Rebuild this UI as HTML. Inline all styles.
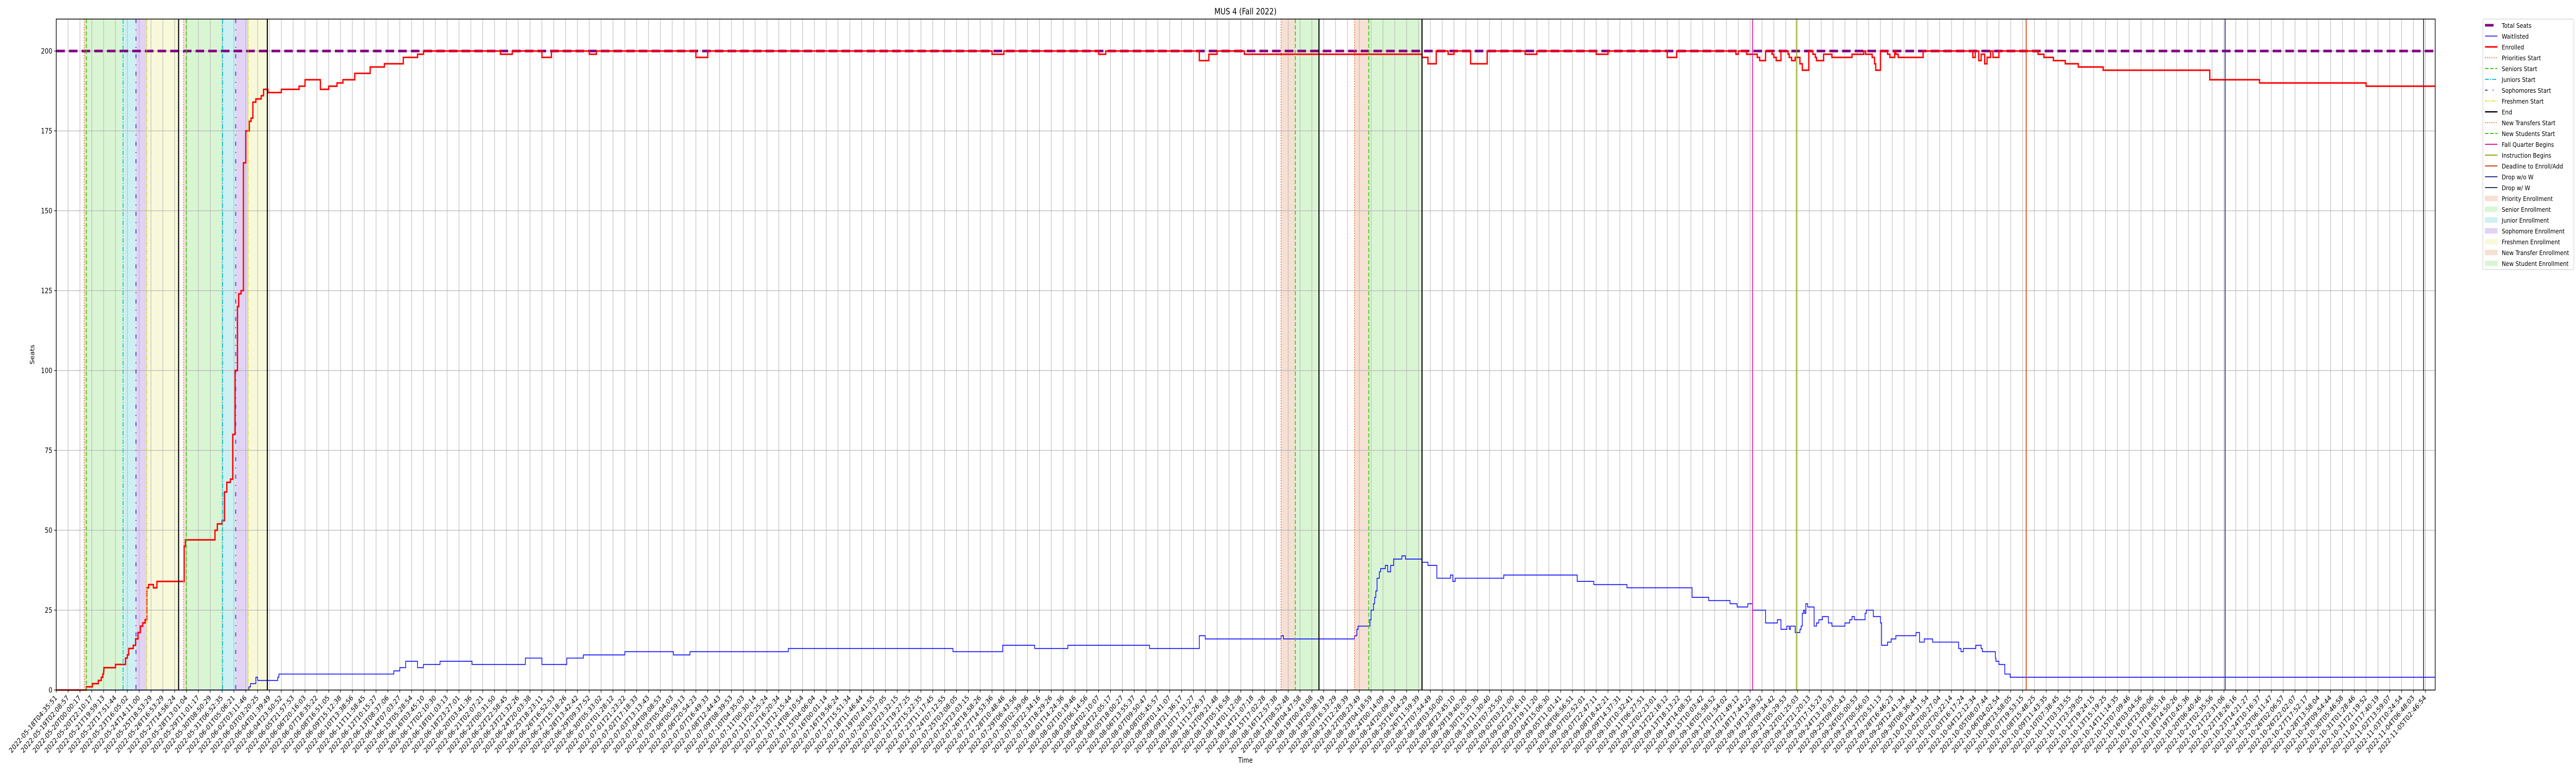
<!DOCTYPE html>
<html><head><meta charset="utf-8"><title>MUS 4 (Fall 2022)</title>
<meta name="viewport" content="width=6000, initial-scale=1">
<style>html,body{margin:0;padding:0;background:#fff;overflow:hidden}svg{display:block;overflow:hidden;width:100vw;height:100vh}text{font-family:"DejaVu Sans","Liberation Sans",sans-serif;fill:#000}</style>
</head><body>
<svg id="chart" viewBox="0 0 6000 1500" preserveAspectRatio="none" xmlns="http://www.w3.org/2000/svg">
<rect x="0" y="0" width="6000" height="1500" fill="#fff"/>
<g id="shades"></g>
<g id="grid"></g>
<g id="series"></g>
<g id="vlines"></g>
<rect x="131" y="37" width="5541" height="1302" fill="none" stroke="#000" stroke-width="1.5"/>
<g id="xaxis"></g>
<g id="yaxis"></g>
<text x="2901" y="28" font-size="16.5" text-anchor="middle">MUS 4 (Fall 2022)</text>
<text x="2901" y="1480" font-size="13.9" text-anchor="middle">Time</text>
<text x="0" y="0" font-size="13.9" text-anchor="middle" transform="translate(80,688) rotate(-90)">Seats</text>
<g id="legend"></g>
</svg>
<script>
// ---- data (x in tick-index units, y in seats) ----
const totalSeats = 200;
const enrolledT = [0,2.54,3.05,3.55,3.8,3.93,4.0,4.02,5.0,5.85,6.0,6.12,6.5,6.7,6.9,7.1,7.3,7.5,7.65,7.8,8.2,8.5,10.8,10.9,13.4,13.6,14.0,14.2,14.4,14.7,14.9,15.1,15.3,15.4,15.6,15.8,16.0,16.3,16.45,16.6,16.85,17.3,17.5,17.87,19.0,20.5,21.0,22.3,23.0,23.7,24.2,25.2,26.5,27.7,29.3,30.5,31.0,37.5,38.5,41,41.8,45,45.6,54,55,79,80,88,88.6,96.5,97.3,98,100.3,115.3,115.8,116.5,117.5,118,119.4,120.8,124,125,130,131,136,136.8,141.8,142.0,142.7,143.6,143.8,144.3,144.85,145.0,145.2,145.6,146.2,146.3,146.5,146.8,147.2,147.4,147.95,148.3,148.5,148.6,149.2,149.9,151.6,152.6,152.75,153.3,153.5,153.6,154.0,154.6,154.8,155.2,155.3,155.5,157.6,161.8,162.0,162.3,162.5,162.8,163.0,163.3,163.5,164.0,167.3,167.8,168.6,169.6,170.7,172.8,181.8,186,195];
const enrolledV = [0,1,2,3,4,5,6,7,8,10,11,13,14,16,18,20,21,22,32,33,32,34,45,47,50,52,53,62,65,66,80,100,120,124,125,165,175,178,179,184,185,186,188,187,188,189,191,188,189,190,191,193,195,196,198,199,200,199,200,198,200,199,200,198,200,199,200,199,200,197,199,200,199,198,196,200,199,200,196,200,199,200,199,200,198,200,199,200,199,198,197,200,199,198,197,200,199,198,197,198,196,194,200,199,198,197,199,198,199,200,199,198,196,194,200,199,198,200,199,198,200,198,200,197,199,196,198,200,198,200,199,198,197,196,195,194,191,190,189];
const waitT = [0,16.27,16.4,16.85,17.0,18.7,18.8,28.5,29.0,29.5,30.5,31.0,32.4,35.1,39.6,41,43.1,44.5,48,52.1,53.5,61.8,75.7,79.9,82.6,85.4,92.3,96.5,97.0,103.4,103.6,109.6,109.8,109.9,110.9,111.0,111.2,111.3,111.4,111.5,111.7,111.8,112.2,112.4,112.65,112.9,113.6,113.9,115.3,115.8,116.55,117.7,117.9,118.1,119.4,122.2,128.4,129.8,132.6,138.1,139.5,141.3,141.9,142.8,143.2,144.3,145.3,145.6,146.1,146.3,146.4,146.8,147.2,147.3,147.4,147.5,147.6,147.7,147.85,147.9,148.4,148.6,148.8,149.0,149.1,149.6,149.9,151.0,151.4,151.6,151.8,152.4,152.7,152.8,153.4,154.0,154.1,154.6,154.8,154.9,155.3,157.0,157.3,157.7,158.4,160.6,160.8,161.0,161.98,162.05,162.5,162.6,163.7,163.75,164.0,164.5,164.95];
const waitV = [0,1,2,4,3,4,5,6,7,9,7,8,9,8,10,8,10,11,12,11,12,13,12,14,13,14,13,17,16,17,16,17,19,20,22,25,27,29,31,35,37,38,39,37,39,41,42,41,40,39,35,36,34,35,35,36,34,33,32,29,28,27,26,27,25,21,22,19,20,19,20,18,19,20,24,25,24,27,26,26,20,21,22,22,23,21,20,21,22,23,22,22,24,25,23,21,14,15,15,16,17,18,15,16,15,13,12,13,13,14,13,12,10,9,8,5,4,3,2];
const shadeType = ["priority","senior","junior","sophomore","freshmen","priority","senior","junior","sophomore","freshmen","newtransfer","newstudent","newtransfer","newstudent"];
const shadeStart = [2.36,2.54,5.64,6.73,7.64,10.75,10.98,14.05,15.15,16.2,103.4,104.6,109.6,110.8];
const shadeEnd = [2.54,5.64,6.73,7.64,10.33,10.98,14.05,15.15,16.2,17.82,104.6,106.6,110.8,115.3];
const eventType = ["priorities","seniors","juniors","sophomores","freshmen","end","priorities","seniors","juniors","sophomores","freshmen","end","transfers","students","end","transfers","students","end","fall","instruction","deadline","dropnow","dropw"];
const eventT = [2.36,2.54,5.64,6.73,7.64,10.33,10.75,10.98,14.05,15.15,16.2,17.82,103.4,104.6,106.6,109.6,110.8,115.3,143.2,146.9,166.3,183.1,199.85];
const yTicks = [0,25,50,75,100,125,150,175,200];
const knownLabelsStart = ["2022-05-18T04:35:51","2022-05-19T02:08:57","2022-05-20T00:00:17","2022-05-20T22:10:17","2022-05-21T19:59:13","2022-05-22T17:51:44","2022-05-23T16:05:02","2022-05-24T14:11:00","2022-05-25T18:53:29","2022-05-26T16:53:29","2022-05-27T14:56:24","2022-05-28T13:01:04","2022-05-29T11:01:17","2022-05-30T08:50:29","2022-05-31T06:52:35","2022-06-01T05:06:21","2022-06-02T03:11:46","2022-06-03T03:20:25","2022-06-04T01:39:49","2022-06-04T23:50:52","2022-06-05T21:57:53","2022-06-06T20:16:03","2022-06-07T18:35:22","2022-06-08T16:51:05","2022-06-09T15:12:38","2022-06-10T13:38:56","2022-06-11T11:58:45","2022-06-12T10:15:27","2022-06-13T08:37:06","2022-06-14T07:03:27","2022-06-15T05:28:54","2022-06-16T03:45:10","2022-06-17T02:10:30","2022-06-18T01:03:13","2022-06-18T23:27:01","2022-06-20T03:41:36","2022-06-21T02:07:21","2022-06-22T00:31:50","2022-06-22T22:58:45","2022-06-23T21:32:26","2022-06-24T20:03:38","2022-06-25T18:23:11","2022-06-26T16:52:53","2022-06-27T15:18:26","2022-06-28T13:42:42"];
const knownLabelsEnd = ["2022-10-26T22:02:07","2022-10-27T17:52:17","2022-10-28T13:58:04","2022-10-29T09:54:44","2022-10-30T05:46:58","2022-10-31T01:28:46","2022-10-31T21:19:52","2022-11-01T17:40:19","2022-11-02T13:59:07","2022-11-03T10:24:54","2022-11-04T06:48:03","2022-11-05T02:46:54"];
const tickCount = 201;

// ---- layout ----
const PL=131, PR=5672, PT=37, PB=1339, XMAX=200.83, YMAX=210;
const X = t => PL + t/XMAX*(PR-PL);
const Y = v => PB - v/YMAX*(PB-PT);
const NS="http://www.w3.org/2000/svg";
function mk(tag, attrs, parent){const e=document.createElementNS(NS,tag);for(const k in attrs)e.setAttribute(k,attrs[k]);parent.appendChild(e);return e;}
const shadeColor={priority:"#f6dfd3",senior:"#d9f5d3",junior:"#cdf0f2",sophomore:"#e1d3f4",freshmen:"#f8f9da",newtransfer:"#f6dfd3",newstudent:"#d9f5d3"};
const ev={priorities:{c:"#ee6a2a",d:"2,3",w:2},seniors:{c:"#33cc11",d:"8,4",w:2},juniors:{c:"#00c8d8",d:"9,3,2,3",w:2},sophomores:{c:"#6622dd",d:"8,12,2,12",w:2},freshmen:{c:"#dddd22",d:"6,2,2,2,2,2",w:2},end:{c:"#000",d:"",w:2.5},transfers:{c:"#ee6a2a",d:"2,3",w:2},students:{c:"#33cc11",d:"8,4",w:2},fall:{c:"#e0189a",d:"",w:2},instruction:{c:"#88aa11",d:"",w:2},deadline:{c:"#d04010",d:"",w:2},dropnow:{c:"#333399",d:"",w:2},dropw:{c:"#2b3a5a",d:"",w:2}};

// shades
const gS=document.getElementById('shades');
for(let i=0;i<shadeStart.length;i++){
  const r=mk('rect',{x:X(shadeStart[i]),y:PT,width:X(shadeEnd[i])-X(shadeStart[i]),height:PB-PT,fill:shadeColor[shadeType[i]]},gS);
  
  
}
// grid + ticks
const gG=document.getElementById('grid'), gX=document.getElementById('xaxis'), gY=document.getElementById('yaxis');
function labelFor(i){
  if(i<knownLabelsStart.length) return knownLabelsStart[i];
  const endIdx=tickCount-knownLabelsEnd.length;
  if(i>=endIdx) return knownLabelsEnd[i-endIdx];
  const a=Date.parse(knownLabelsStart[knownLabelsStart.length-1]+"Z"), b=Date.parse(knownLabelsEnd[0]+"Z");
  const i0=knownLabelsStart.length-1;
  const ms=a+(b-a)*(i-i0)/(endIdx-i0);
  return new Date(Math.round(ms/1000)*1000).toISOString().slice(0,19);
}
for(let i=0;i<tickCount;i++){
  const x=X(i);
  const g=mk('line',{x1:x,x2:x,y1:PT,y2:PB,stroke:"#b0b0b0","stroke-width":1.2,"stroke-opacity":0.9},gG);
  
  
  const tk=mk('line',{x1:x,x2:x,y1:PB,y2:PB+5,stroke:"#000","stroke-width":1.2},gX);
  
  
  const t=mk('text',{x:0,y:0,"font-size":13.9,"text-anchor":"end",transform:`translate(${x+3},${PB+16}) rotate(-45)`},gX);
  t.textContent=labelFor(i);
  
  
}
for(const v of yTicks){
  const y=Y(v);
  const g=mk('line',{x1:PL,x2:PR,y1:y,y2:y,stroke:"#b0b0b0","stroke-width":1.2,"stroke-opacity":0.9},gG);
  
  
  const tk=mk('line',{x1:PL-5,x2:PL,y1:y,y2:y,stroke:"#000","stroke-width":1.2},gY);
  
  
  const t=mk('text',{x:PL-9,y:y+5,"font-size":13.9,"text-anchor":"end"},gY);
  t.textContent=String(v);
  
  
}
// series
const gSer=document.getElementById('series');
const ts=mk('line',{x1:PL,x2:PR,y1:Y(totalSeats),y2:Y(totalSeats),stroke:"#800080","stroke-width":5,"stroke-dasharray":"20,9.5"},gSer);


function stepPath(T,V){
  let d=`M${X(T[0])},${Y(V[0])}`;
  for(let i=1;i<T.length;i++){d+=` H${X(T[i])} V${Y(V[i])}`;}
  d+=` H${X(XMAX)}`;return d;
}
const wl=mk('path',{d:stepPath(waitT,waitV),fill:"none",stroke:"#0000ff","stroke-width":1.6},gSer);


const el=mk('path',{d:stepPath(enrolledT,enrolledV),fill:"none",stroke:"#ff0000","stroke-width":3},gSer);


// event lines
const gV=document.getElementById('vlines');
for(let i=0;i<eventT.length;i++){
  const s=ev[eventType[i]], x=X(eventT[i]);
  const a={x1:x,x2:x,y1:PT,y2:PB,stroke:s.c,"stroke-width":s.w};
  if(s.d)a["stroke-dasharray"]=s.d;
  const l=mk('line',a,gV);
  
  
}
// legend
const gL=document.getElementById('legend');
const lb=mk('rect',{x:5783,y:37,width:212,height:486,rx:3,fill:"#fff",stroke:"#d0d0d0","stroke-width":1.2},gL);


const legItems=[["Total Seats","line","#800080",5,""],["Waitlisted","line","#0000ff",1.5,""],["Enrolled","line","#ff0000",3,""],["Priorities Start","line","#ee6a2a",2,"2,3"],["Seniors Start","line","#33cc11",2,"8,4"],["Juniors Start","line","#00c8d8",2,"9,3,2,3"],["Sophomores Start","line","#6622dd",2,"6,12,2,12"],["Freshmen Start","line","#dddd22",2,"6,2,2,2,2,2"],["End","line","#000",2.5,""],["New Transfers Start","line","#ee6a2a",2,"2,3"],["New Students Start","line","#33cc11",2,"8,4"],["Fall Quarter Begins","line","#e0189a",2,""],["Instruction Begins","line","#88aa11",2,""],["Deadline to Enroll/Add","line","#d04010",2,""],["Drop w/o W","line","#333399",2,""],["Drop w/ W","line","#2b3a5a",2,""],["Priority Enrollment","patch","#f6dfd3"],["Senior Enrollment","patch","#d9f5d3"],["Junior Enrollment","patch","#cdf0f2"],["Sophomore Enrollment","patch","#e1d3f4"],["Freshmen Enrollment","patch","#f8f9da"],["New Transfer Enrollment","patch","#f6dfd3"],["New Student Enrollment","patch","#d9f5d3"]];
legItems.forEach((it,i)=>{
  const y=49+i*21;
  const g=mk('g',{},gL);
  
  
  if(it[1]==="line"){
    const a={x1:5788,x2:5817,y1:y,y2:y,stroke:it[2],"stroke-width":it[3]};
    if(it[4])a["stroke-dasharray"]=it[4];
    if(i===0){a.x2=5808;}
    mk('line',a,g);
  } else {
    mk('rect',{x:5788,y:y-5,width:29,height:10,fill:it[2],stroke:it[2],"stroke-opacity":0.6},g);
  }
  const t=mk('text',{x:5827,y:y+5,"font-size":12.8},g);
  t.textContent=it[0];
});
</script>
</body></html>
